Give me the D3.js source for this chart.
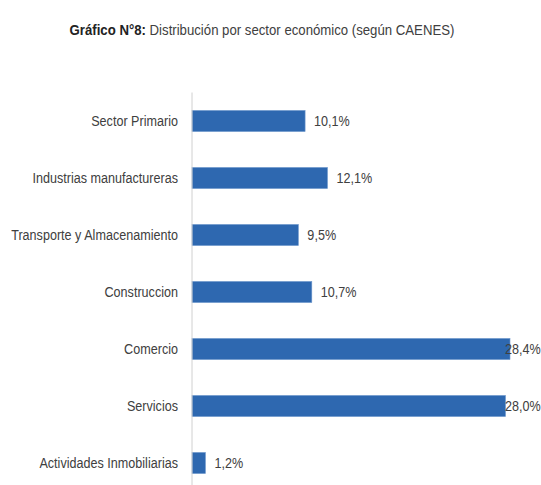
<!DOCTYPE html>
<html>
<head>
<meta charset="utf-8">
<script src="https://cdn.jsdelivr.net/npm/d3@7"></script>
<style>
	body { margin: 0; background: #fff; }
	svg { display: block; }
</style>
</head>
<body>
<div id="chart"></div>
<script>
// data
// ----------------------------------------
var sectors = ["Sector Primario", "Industrias manufactureras", "Transporte y Almacenamiento",
	"Construccion", "Comercio", "Servicios", "Actividades Inmobiliarias"];
var shares = [10.1, 12.1, 9.5, 10.7, 28.4, 28.0, 1.2];
var share_labels = ["10,1%", "12,1%", "9,5%", "10,7%", "28,4%", "28,0%", "1,2%"];

var width = 541, height = 485;
var margin = {top: 92.5, left: 192, right: 31};
var font = "'Liberation Sans', Arial, sans-serif";
var sx = 0.84; // the original font is a narrow one, so squeeze the text

var svg = d3.select("#chart")
	.append("svg")
	.attr("width", width)
	.attr("height", height);

// title
var title = svg.append("text")
	.attr("x", 262 / 0.88)
	.attr("y", 35)
	.attr("transform", "scale(0.88,1)")
	.attr("text-anchor", "middle")
	.attr("font-family", font)
	.attr("font-size", 15)
	.attr("fill", "#222");
title.append("tspan").attr("font-weight", "bold").text("Gráfico N°8:");
title.append("tspan").attr("fill", "#404040").text(" Distribución por sector económico (según CAENES)");

// scales
var x = d3.scaleLinear()
	.domain([0, 28.4])
	.range([margin.left, 510]);

var y = d3.scaleBand()
	.domain(sectors)
	.range([margin.top, margin.top + 57 * sectors.length])
	.paddingInner(0.63)
	.paddingOuter(0.315);

// bars
svg.selectAll("rect.bar")
	.data(shares)
	.enter()
	.append("rect")
	.attr("class", "bar")
	.attr("x", x(0))
	.attr("y", function(d, i){ return y(sectors[i]); })
	.attr("width", function(d){ return x(d) - x(0); })
	.attr("height", y.bandwidth())
	.attr("fill", "#2e68b0")
	.attr("stroke", "#6f98cc")
	.attr("stroke-width", 0.6);

// category axis
var axis = svg.append("g")
	.attr("transform", "translate(" + margin.left + ",0)")
	.call(d3.axisLeft(y).tickSize(0).tickPadding(14));
axis.select(".domain").attr("stroke", "#d0d0d0").attr("d", "M0," + margin.top + "V" + height);
axis.selectAll(".tick text")
	.attr("x", -14 / sx)
	.attr("transform", "scale(" + sx + ",1)")
	.attr("font-family", font)
	.attr("font-size", 15)
	.attr("fill", "#404040");

// value labels
svg.selectAll("text.val")
	.data(shares)
	.enter()
	.append("text")
	.attr("class", "val")
	.attr("transform", function(d, i){
		var lx = Math.min(x(d) + 9, width - 36);
		return "translate(" + lx + "," + (y(sectors[i]) + y.bandwidth() / 2) + ") scale(" + sx + ",1)";
	})
	.attr("dy", "0.35em")
	.attr("font-family", font)
	.attr("font-size", 15)
	.attr("fill", "#404040")
	.text(function(d, i){ return share_labels[i]; });
</script>
</body>
</html>
